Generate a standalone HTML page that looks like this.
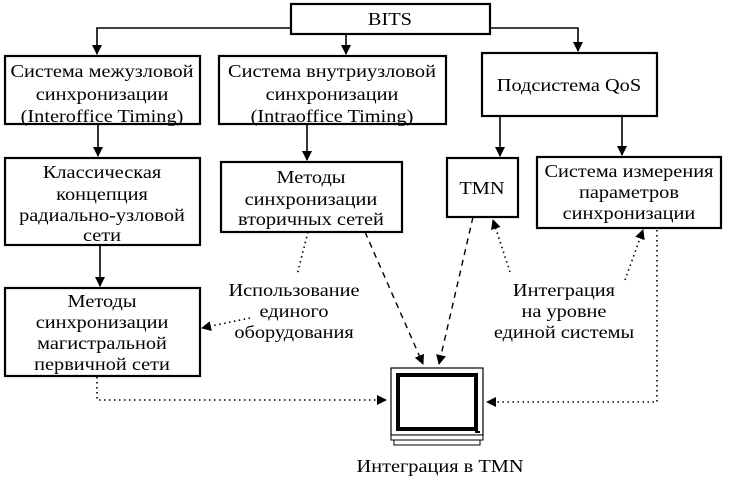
<!DOCTYPE html>
<html><head><meta charset="utf-8"><style>body{margin:0;background:#fff}svg{display:block}</style></head>
<body>
<svg width="729" height="477" viewBox="0 0 729 477" xmlns="http://www.w3.org/2000/svg" font-family="Liberation Serif, serif" font-size="18" fill="#000">
<defs>
<marker id="a" viewBox="0 0 10 10" refX="9" refY="5" markerWidth="10" markerHeight="10" orient="auto" markerUnits="userSpaceOnUse"><path d="M0,0 L10,5 L0,10 z" fill="#000"/></marker>
</defs>
<g fill="none" stroke="#000" stroke-width="2.2">
<rect x="291" y="4" width="199" height="30"/>
<rect x="5" y="56" width="195" height="68"/>
<rect x="219" y="56" width="227" height="68"/>
<rect x="482" y="53" width="175" height="63"/>
<rect x="5" y="158" width="195" height="87"/>
<rect x="221" y="162" width="181" height="70"/>
<rect x="447" y="158" width="71" height="59"/>
<rect x="537" y="157" width="184" height="71"/>
<rect x="5" y="288" width="195" height="88"/>
</g>
<g fill="none" stroke="#000" stroke-width="1.6">
<path d="M291,28 H97 V54" marker-end="url(#a)"/>
<path d="M346,34 V54" marker-end="url(#a)"/>
<path d="M490,28 H578 V51" marker-end="url(#a)"/>
<path d="M98,124 V156" marker-end="url(#a)"/>
<path d="M307,124 V160" marker-end="url(#a)"/>
<path d="M500,116 V156" marker-end="url(#a)"/>
<path d="M622,116 V155" marker-end="url(#a)"/>
<path d="M100,245 V286" marker-end="url(#a)"/>
</g>
<g fill="none" stroke="#000" stroke-width="1.4" stroke-dasharray="6,5">
<path d="M365,232 L423,364" marker-end="url(#a)"/>
<path d="M473,217 L439,364" marker-end="url(#a)"/>
</g>
<g fill="none" stroke="#000" stroke-width="1.6" stroke-dasharray="1.5,3.5">
<path d="M308,232 L297,275"/>
<path d="M250,318 L202,328" marker-end="url(#a)"/>
<path d="M510,272 L493,220" marker-end="url(#a)"/>
<path d="M625,280 L643,230" marker-end="url(#a)"/>
<path d="M657,230 V402 H487" marker-end="url(#a)"/>
<path d="M97,377 V400 H386" marker-end="url(#a)"/>
</g>
<g stroke="#000">
<rect x="391" y="368" width="92" height="67" fill="#fff" stroke-width="1.2"/>
<rect x="398" y="375" width="78" height="54" fill="#fff" stroke-width="4"/>
<rect x="391" y="435" width="92" height="5" fill="#fff" stroke-width="1"/>
<rect x="394" y="440" width="86" height="5" fill="#fff" stroke-width="1"/>
<rect x="475" y="431" width="5" height="2" fill="#000" stroke-width="0"/>
</g>
<g text-anchor="middle" transform="scale(1.13 1)">
<text x="345.1" y="25">BITS</text>
<text x="90.3" y="77">Система межузловой</text>
<text x="90.3" y="100">синхронизации</text>
<text x="90.3" y="122">(Interoffice Timing)</text>
<text x="293.8" y="77">Система внутриузловой</text>
<text x="293.8" y="100">синхронизации</text>
<text x="293.8" y="122">(Intraoffice Timing)</text>
<text x="503.5" y="91">Подсистема QoS</text>
<text x="90.3" y="178">Классическая</text>
<text x="90.3" y="200">концепция</text>
<text x="90.3" y="221">радиально-узловой</text>
<text x="90.3" y="241">сети</text>
<text x="275.2" y="183">Методы</text>
<text x="275.2" y="205">синхронизации</text>
<text x="275.2" y="225">вторичных сетей</text>
<text x="426.5" y="194">TMN</text>
<text x="556.6" y="177">Система измерения</text>
<text x="556.6" y="198">параметров</text>
<text x="556.6" y="219">синхронизации</text>
<text x="90.3" y="307">Методы</text>
<text x="90.3" y="328">синхронизации</text>
<text x="90.3" y="349">магистральной</text>
<text x="90.3" y="370">первичной сети</text>
<text x="260.2" y="296">Использование</text>
<text x="260.2" y="317">единого</text>
<text x="260.2" y="338">оборудования</text>
<text x="499.1" y="296">Интеграция</text>
<text x="499.1" y="317">на уровне</text>
<text x="499.1" y="338">единой системы</text>
<text x="389.4" y="472">Интеграция в TMN</text>
</g>
</svg>
</body></html>
